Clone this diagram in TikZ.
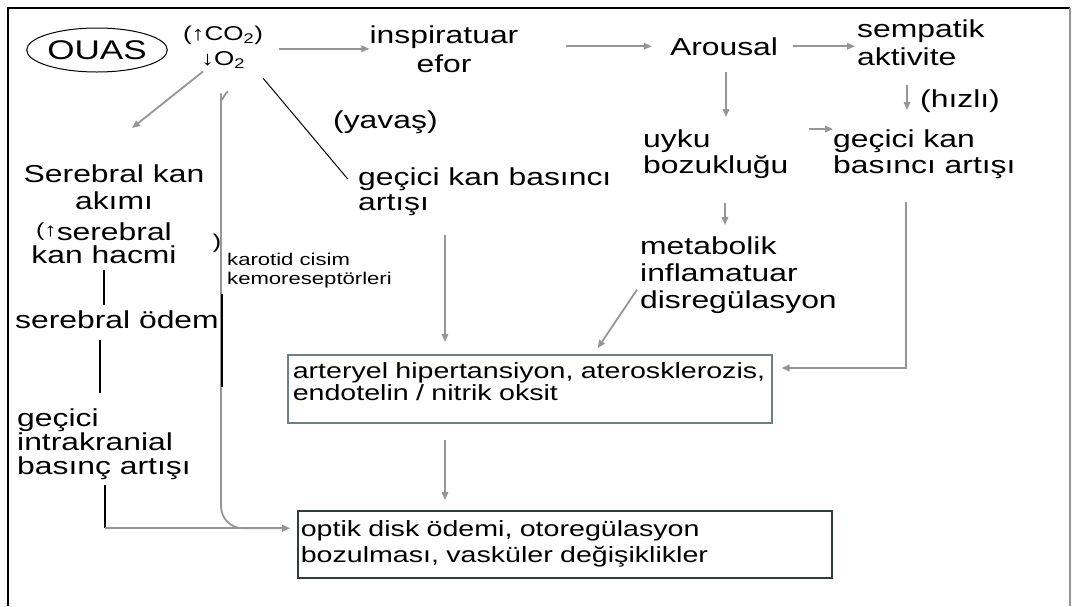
\documentclass[tikz,border=0pt]{standalone}
\usepackage{fontspec}
\setmainfont{Liberation Sans}[FakeStretch=1.3]
\usepackage{tikz}
\usetikzlibrary{arrows.meta,shapes.geometric}
\definecolor{flowgray}{RGB}{150,150,150}
\definecolor{boxgray}{RGB}{112,128,128}
\definecolor{boxdark}{RGB}{50,58,58}

\begin{document}
\begin{tikzpicture}[x=1pt,y=-1pt,
    lbl/.style={inner sep=0pt,align=left,font=\fontsize{24.5}{28}\selectfont},
    small/.style={inner sep=0pt,align=left,font=\fontsize{17}{19}\selectfont},
    flow/.style={draw=flowgray,line width=1.8pt,-{Triangle[length=8pt,width=6.5pt]}},
    link/.style={draw=black,line width=1.2pt},
    boxed/.style={draw,line width=1.5pt,anchor=north west,align=left,font=\fontsize{22}{20}\selectfont}]
\useasboundingbox (0,0) rectangle (1072,606);
\draw[line width=2.5pt] (8,606) -- (8,8) -- (1070,8);
\draw[line width=1.2pt,draw=flowgray] (1070,8) -- (1070,606);

% top row
\node[draw,ellipse,line width=1pt,minimum width=118pt,minimum height=44pt,inner sep=0pt,font=\fontsize{27}{30}\selectfont] (ouas) at (97,50) {OUAS};
\node[lbl,align=center,anchor=base,font=\fontsize{20}{25}\selectfont] (gas) at (223,65) {(\textbf{↑}CO\textsubscript{2})\\\textbf{↓}O\textsubscript{2}};
\node[lbl,align=center,anchor=base,font=\fontsize{24.5}{29}\selectfont] (insp) at (444,72) {inspiratuar\\efor};
\node[lbl,anchor=base] (arousal) at (724,55) {Arousal};
\node[lbl,anchor=base west] (symp) at (857,65) {sempatik\\aktivite};
\node[lbl,anchor=base west] (hizli) at (920,107) {(hızlı)};
\node[lbl,anchor=base west,font=\fontsize{24.5}{26}\selectfont] (kan2) at (833,173) {geçici kan\\basıncı artışı};
\node[lbl,anchor=base west,font=\fontsize{24.5}{26}\selectfont] (uyku) at (643,173) {uyku\\bozukluğu};
\node[lbl,anchor=base west,font=\fontsize{24.5}{27}\selectfont] (metab) at (640,308) {metabolik\\inflamatuar\\disregülasyon};

% middle
\node[lbl,anchor=base west] (yavas) at (333,128) {(yavaş)};
\node[lbl,anchor=base west,font=\fontsize{24.5}{25}\selectfont] (kan1) at (358,210) {geçici kan basıncı\\artışı};
\node[small,anchor=base west] (karotid) at (227,284) {karotid cisim\\kemoreseptörleri};
\node[inner sep=0pt,font=\fontsize{20}{20}\selectfont] (paren) at (217,243) {)};

% left column
\node[lbl,align=center,anchor=base,font=\fontsize{24.5}{27}\selectfont] (sbf) at (114,209) {Serebral kan\\akımı};
\node[lbl,align=center,anchor=base,font=\fontsize{24.5}{23}\selectfont] (sbv) at (104,263) {\raisebox{4pt}{\fontsize{19}{19}\selectfont(\textbf{↑}}serebral\\kan hacmi};
\node[lbl,anchor=base west] (odem) at (15,328) {serebral ödem};
\node[lbl,anchor=base west,font=\fontsize{24.5}{24}\selectfont] (icp) at (17,474) {geçici\\intrakranial\\basınç artışı};

% boxes
\node[boxed,draw=boxgray,inner xsep=5pt,text width=474pt,minimum height=68pt] (htn) at (287,354) {arteryel hipertansiyon, aterosklerozis,\\endotelin / nitrik oksit\rule[-14pt]{0pt}{14pt}};
\node[boxed,draw=boxdark,inner xsep=3pt,text width=528pt,minimum height=67pt,font=\fontsize{22}{26}\selectfont] (optic) at (297,510) {optik disk ödemi, otoregülasyon\\bozulması, vasküler değişiklikler};

% connectors
\draw[flow,shorten <=16pt] (gas.east |- insp.west) -- (insp.west);
\draw[flow,shorten <=47pt,shorten >=18pt] (insp.east |- arousal.west) -- (arousal.west);
\draw[flow,shorten <=15pt,shorten >=2pt] (arousal.east) -- (arousal.east -| symp.west);
\draw[flow,shorten <=17pt,shorten >=12pt] ([xshift=2pt]arousal.south) -- ([xshift=2pt]arousal.south |- uyku.north);
\draw[flow,shorten <=20pt,shorten >=19pt] ([xshift=50pt]symp.south west) -- ([xshift=74pt]kan2.north west);
\draw[flow,shorten <=20pt] (uyku.north east) -- (uyku.north east -| kan2.west);
\draw[flow,shorten <=25pt,shorten >=11pt] ([xshift=82pt]uyku.south west) -- ([xshift=82pt]uyku.south west |- metab.north);
\draw[flow,shorten >=7pt] ([xshift=-3pt,yshift=-15pt]metab.west) -- ([xshift=64pt]htn.north);
\draw[flow,shorten <=20pt,shorten >=12pt] ([xshift=87pt]kan1.south west) -- ([xshift=87pt]kan1.south west |- htn.north);
\draw[flow,shorten <=24pt,shorten >=9pt] ([xshift=73pt]kan2.south west) |- ([yshift=-14pt]htn.north east);
\draw[flow,shorten <=16pt,shorten >=10pt] ([xshift=158pt]htn.south west) -- ([xshift=158pt]htn.south west |- optic.north);
\draw[flow,shorten <=5pt] ([xshift=-16pt]gas.south) -- ([xshift=18pt,yshift=36pt]sbf.north);
\draw[link,line width=1pt,shorten >=16pt] ([yshift=-10pt]gas.south east) -- (kan1.west);

\draw[link,shorten <=7pt,shorten >=5pt] (sbv.south) -- (sbv.south |- odem.north);
\draw[link,shorten <=12pt,shorten >=15pt] ([xshift=85pt]odem.south west) -- ([xshift=85pt]odem.south west |- icp.north);
\path ([xshift=88pt]icp.south west) coordinate (icpfoot);
\path ([yshift=16pt]optic.west) coordinate (optin);
\coordinate (corner) at (icpfoot |- optin);
\draw[link,shorten <=6pt] (icpfoot) -- (corner);
\draw[flow,shorten >=7pt] (corner) -- (optin);
\draw[flow,rounded corners=22pt,shorten >=7pt] ([xshift=5pt,yshift=-23pt]gas.south) .. controls +(-6,5) and +(0,-8) .. ++(-7,24) |- (optin);
\draw[link] ([xshift=-5pt,yshift=-6pt]karotid.south west) -- ++(0,93);
\end{tikzpicture}
\end{document}
